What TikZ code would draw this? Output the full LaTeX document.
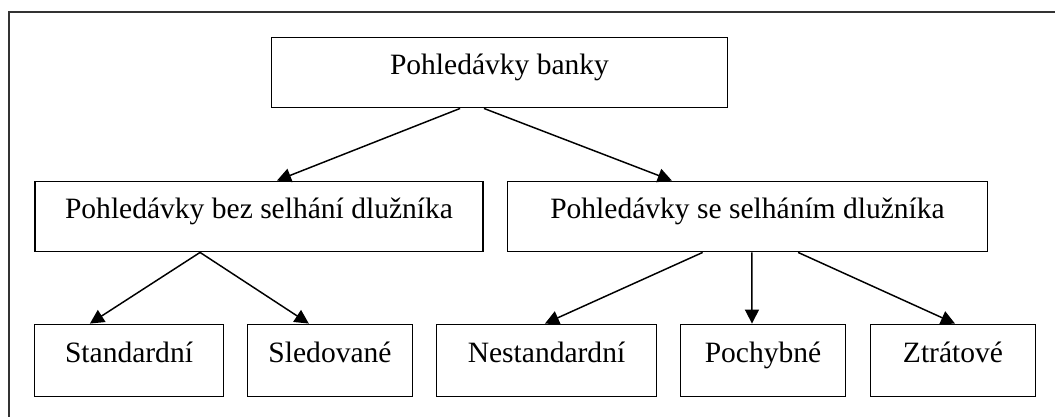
\documentclass[tikz,border=0pt]{standalone}
\usepackage{fontspec}
\setmainfont{Liberation Serif}
\usetikzlibrary{arrows.meta,calc}
\begin{document}
\begin{tikzpicture}[x=0.025cm,y=-0.025cm]
    \tikzstyle{box}=[draw, line width=1.3pt, inner sep=0pt, minimum height=1.75cm, text height=0.72em, text depth=0.42em, font=\fontsize{21}{25}\selectfont]
    \tikzstyle{link}=[line width=1.05pt, -{Triangle[length=10pt,width=10pt]}]
    \useasboundingbox (0,0) rectangle (1055,416);
    % frame
    \draw[line width=1.1pt, black!80] (9,420) -- (9,12) -- (1060,12);
    % boxes
    \node[box, minimum width=11.4cm] (top) at (499.5,72.5) {Pohledávky banky};
    \node[box, minimum width=11.2cm] (bez) at (259,216.5) {Pohledávky bez selhání dlužníka};
    \node[box, minimum width=12.0cm] (se) at (747.5,216.5) {Pohledávky se selháním dlužníka};
    \node[box, minimum width=4.72cm, minimum height=1.8cm] (std) at (129,360.5) {Standardní};
    \node[box, minimum width=4.12cm, minimum height=1.8cm] (sled) at (330,360.5) {Sledované};
    \node[box, minimum width=5.5cm, minimum height=1.8cm] (nest) at (546.5,360.5) {Nestandardní};
    \node[box, minimum width=4.12cm, minimum height=1.8cm] (poch) at (763,360.5) {Pochybné};
    \node[box, minimum width=4.12cm, minimum height=1.8cm] (ztr) at (953,360.5) {Ztrátové};
    % arrows
    \draw[link] ($(top.south west)!0.414!(top.south east)$) -- ($(bez.north west)!0.54!(bez.north east)$);
    \draw[link] ($(top.south west)!0.466!(top.south east)$) -- ($(se.north west)!0.343!(se.north east)$);
    \draw[link] ($(bez.south west)!0.369!(bez.south east)$) -- ($(std.north west)!0.295!(std.north east)$);
    \draw[link] ($(bez.south west)!0.369!(bez.south east)$) -- ($(sled.north west)!0.373!(sled.north east)$);
    \draw[link] ($(se.south west)!0.407!(se.south east)$) -- ($(nest.north west)!0.493!(nest.north east)$);
    \draw[link] ($(se.south west)!0.509!(se.south east)$) -- ($(poch.north west)!0.434!(poch.north east)$);
    \draw[link] ($(se.south west)!0.605!(se.south east)$) -- ($(ztr.north west)!0.512!(ztr.north east)$);
\end{tikzpicture}
\end{document}
